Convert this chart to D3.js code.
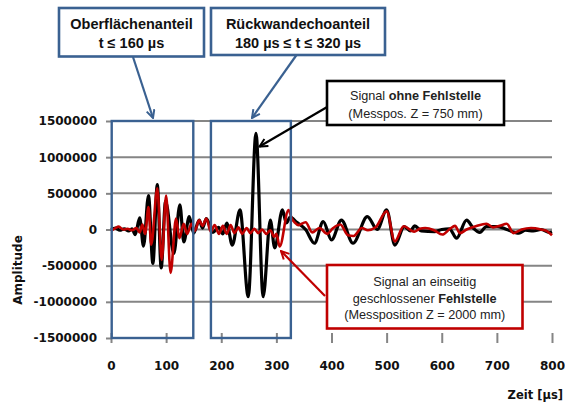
<!DOCTYPE html>
<html>
<head>
<meta charset="utf-8">
<script src="https://cdn.jsdelivr.net/npm/d3@7"></script>
<style>
  html, body { margin: 0; padding: 0; background: #fff; }
  svg { display: block; }
</style>
</head>
<body>
<svg id="chart" width="565" height="405"></svg>
<script>
// ---------- data ----------
const yTicks = [-1500000, -1000000, -500000, 0, 500000, 1000000, 1500000];
const xTicks = [0, 100, 200, 300, 400, 500, 600, 700, 800];

// Signal ohne Fehlstelle (Z = 750 mm): turning points [time µs, amplitude]
const signalOhne = [
  [0, 0], [8, 20000], [16, -10000], [24, 10000], [32, -20000], [38, 10000],
  [44, -70000], [52, 160000], [59, -230000], [68, 470000], [76, -470000],
  [84, 620000], [91, -530000], [99, 390000], [114, -330000], [125, 340000],
  [132, -170000], [142, 177000], [150, -50000], [160, 130000], [166, 20000],
  [173, 150000], [185, -40000], [195, 30000], [203, -60000], [210, 90000],
  [220, -215000], [234, 270000], [249, -930000], [263, 1330000], [276, -930000],
  [289, 130000], [297, -255000], [311, 270000], [318, 90000], [325, 170000],
  [337, 100000], [353, 0], [369, -190000], [385, 110000], [400, -145000],
  [418, 130000], [439, -190000], [465, 177000], [483, 0], [500, 270000],
  [515, -215000], [532, 40000], [543, -20000], [551, 50000], [563, -20000],
  [587, -30000], [600, 0], [614, 10000], [627, -120000], [645, 130000],
  [657, 20000], [669, -40000], [681, 40000], [702, 40000], [718, 0],
  [740, -50000], [752, -10000], [766, -20000], [780, 0], [795, -40000], [800, -30000]
];

// Signal an einseitig geschlossener Fehlstelle (Z = 2000 mm)
const signalFehlstelle = [
  [0, -20000], [8, 20000], [14, 40000], [22, 0], [30, 10000], [38, -10000],
  [46, 20000], [52, -40000], [57, 70000], [62, -60000], [68, 310000],
  [73, -210000], [84, 570000], [92, -420000], [100, 470000], [108, -600000],
  [118, 150000], [124, -120000], [132, 80000], [138, -60000], [146, 80000],
  [152, -20000], [160, 130000], [166, 50000], [173, 150000], [181, -30000],
  [188, 60000], [196, -60000], [203, 50000], [210, -60000], [217, 60000],
  [224, -50000], [231, 30000], [238, -60000], [246, 20000], [253, -50000],
  [260, 10000], [267, -50000], [274, 0], [282, -60000], [289, -10000],
  [296, -100000], [300, -60000], [306, -235000], [322, 270000], [328, 150000],
  [333, 100000], [340, 60000], [353, 100000], [365, -40000], [378, 20000],
  [392, -60000], [403, 20000], [416, 70000], [430, -80000], [440, -90000],
  [455, 20000], [466, -10000], [480, 30000], [500, 250000], [515, -165000],
  [531, 45000], [550, -30000], [560, 10000], [570, 20000], [586, -10000],
  [601, -70000], [615, 10000], [624, 50000], [633, -50000], [645, 0],
  [663, 50000], [681, 80000], [693, 30000], [705, 50000], [718, 80000],
  [730, -50000], [745, 0], [762, 20000], [780, 0], [790, -20000], [800, -80000]
];

// highlighted time windows [start, end] in µs
const windowOberflaeche = [0, 148];
const windowRueckwand = [180, 325];

const headerLabels = [
  ["Oberflächenanteil", "t ≤ 160 µs"],
  ["Rückwandechoanteil", "180 µs ≤ t ≤ 320 µs"]
];
const calloutOhne = [["Signal ", "ohne Fehlstelle"], ["(Messpos. Z = 750 mm)", ""]];
const calloutFehl = [["Signal an einseitig", ""], ["geschlossener ", "Fehlstelle"], ["(Messposition Z = 2000 mm)", ""]];

// ---------- layout ----------
const svg = d3.select("#chart");
const x = d3.scaleLinear().domain([0, 800]).range([111, 552]);
const y = d3.scaleLinear().domain([-1500000, 1500000]).range([338, 121]);

const gridColor = "#858585";
const blue = "#3a6191";
const red = "#c00000";
const labelFont = "'DejaVu Sans', sans-serif";
const textFont = "'Liberation Sans', Arial, sans-serif";

// markers
const defs = svg.append("defs");
function marker(id, color) {
  defs.append("marker")
    .attr("id", id).attr("viewBox", "0 0 10 10")
    .attr("refX", 9).attr("refY", 5)
    .attr("markerWidth", 10).attr("markerHeight", 10)
    .attr("markerUnits", "userSpaceOnUse")
    .attr("orient", "auto")
    .append("path").attr("d", "M1,1 L9,5 L1,9")
    .attr("fill", "none").attr("stroke", color).attr("stroke-width", 2)
    .attr("stroke-linejoin", "miter");
}
marker("arBlue", blue); marker("arBlack", "#000"); marker("arRed", red);

// gridlines (no line at the bottom value)
svg.append("g").selectAll("line")
  .data(yTicks.filter(d => d > -1500000))
  .join("line")
  .attr("x1", x(0)).attr("x2", x(800))
  .attr("y1", d => y(d)).attr("y2", d => y(d))
  .attr("stroke", gridColor).attr("stroke-width", 2);

// y axis
const yAxis = svg.append("g").attr("transform", `translate(${x(0)},0)`)
  .call(d3.axisLeft(y).tickValues(yTicks).tickSize(5).tickPadding(9).tickFormat(d => String(d)));
yAxis.select(".domain").remove();
yAxis.selectAll(".tick line").attr("stroke", gridColor).attr("stroke-width", 2);
yAxis.selectAll(".tick text")
  .attr("font-family", labelFont).attr("font-weight", "bold")
  .attr("font-size", "12px").attr("fill", "#111");

// x axis (at bottom, ticks crossing)
const xAxis = svg.append("g").attr("transform", `translate(0,${y(-1500000)})`)
  .call(d3.axisBottom(x).tickValues(xTicks).tickSizeInner(5).tickSizeOuter(0).tickPadding(18));
xAxis.select(".domain").remove();
xAxis.selectAll(".tick line").attr("stroke", gridColor).attr("stroke-width", 2).attr("y1", -5);
xAxis.selectAll(".tick text")
  .attr("font-family", labelFont).attr("font-weight", "bold")
  .attr("font-size", "12px").attr("fill", "#111");

// signal lines
const line = d3.line().x(d => x(d[0])).y(d => y(d[1])).curve(d3.curveMonotoneX);
svg.append("path").datum(signalOhne).attr("d", line)
  .attr("fill", "none").attr("stroke", "#000").attr("stroke-width", 3.2)
  .attr("stroke-linejoin", "round");
svg.append("path").datum(signalFehlstelle).attr("d", line)
  .attr("fill", "none").attr("stroke", red).attr("stroke-width", 2.6)
  .attr("stroke-linejoin", "round");

// time window boxes
[windowOberflaeche, windowRueckwand].forEach(w => {
  svg.append("rect")
    .attr("x", x(w[0]) + 0.7).attr("y", y(1500000))
    .attr("width", x(w[1]) - x(w[0])).attr("height", y(-1500000) - y(1500000))
    .attr("fill", "none").attr("stroke", blue).attr("stroke-width", 2.4);
});

// header boxes
const headers = [
  {x0: 59, x1: 204, y0: 8, y1: 56.5, lines: headerLabels[0], ax: [133, 57, 153, 118]},
  {x0: 211, x1: 385, y0: 8, y1: 55, lines: headerLabels[1], ax: [296.5, 55, 252, 118]}
];
headers.forEach(h => {
  svg.append("line").attr("x1", h.ax[0]).attr("y1", h.ax[1]).attr("x2", h.ax[2]).attr("y2", h.ax[3])
    .attr("stroke", blue).attr("stroke-width", 2.2).attr("marker-end", "url(#arBlue)");
  svg.append("rect").attr("x", h.x0).attr("y", h.y0).attr("width", h.x1 - h.x0).attr("height", h.y1 - h.y0)
    .attr("fill", "#fff").attr("stroke", blue).attr("stroke-width", 2.6);
  h.lines.forEach((t, i) => {
    svg.append("text").attr("x", (h.x0 + h.x1) / 2).attr("y", 29 + i * 19)
      .attr("text-anchor", "middle").attr("font-family", textFont)
      .attr("font-weight", "bold").attr("font-size", "14.5px").attr("fill", "#111")
      .text(t);
  });
});

// callouts
function callout(box, lines, color, arrow, markerId, baselines) {
  svg.append("line").attr("x1", arrow[0]).attr("y1", arrow[1]).attr("x2", arrow[2]).attr("y2", arrow[3])
    .attr("stroke", color).attr("stroke-width", 2.2).attr("marker-end", `url(#${markerId})`);
  svg.append("rect").attr("x", box[0]).attr("y", box[1]).attr("width", box[2] - box[0]).attr("height", box[3] - box[1])
    .attr("fill", "#fff").attr("stroke", color).attr("stroke-width", 2.6);
  lines.forEach((l, i) => {
    const t = svg.append("text").attr("x", (box[0] + box[2]) / 2).attr("y", baselines[i])
      .attr("text-anchor", "middle").attr("font-family", textFont)
      .attr("font-size", "12.7px").attr("fill", "#222");
    t.append("tspan").text(l[0]);
    if (l[1]) t.append("tspan").attr("font-weight", "bold").text(l[1]);
  });
}
callout([327, 81, 504, 125], calloutOhne, "#000", [328, 106.5, 259.5, 146.5], "arBlack", [99.5, 117.5]);
callout([327, 265, 522.5, 328.5], calloutFehl, red, [325, 296, 281, 251], "arRed", [286, 302.5, 318.5]);

// axis titles
svg.append("text").attr("transform", "translate(22,270) rotate(-90)")
  .attr("text-anchor", "middle").attr("font-family", labelFont)
  .attr("font-weight", "bold").attr("font-size", "12px").attr("fill", "#111")
  .text("Amplitude");
svg.append("text").attr("x", 563).attr("y", 399)
  .attr("text-anchor", "end").attr("font-family", labelFont)
  .attr("font-weight", "bold").attr("font-size", "11.5px").attr("fill", "#111")
  .text("Zeit [µs]");
</script>
</body>
</html>
